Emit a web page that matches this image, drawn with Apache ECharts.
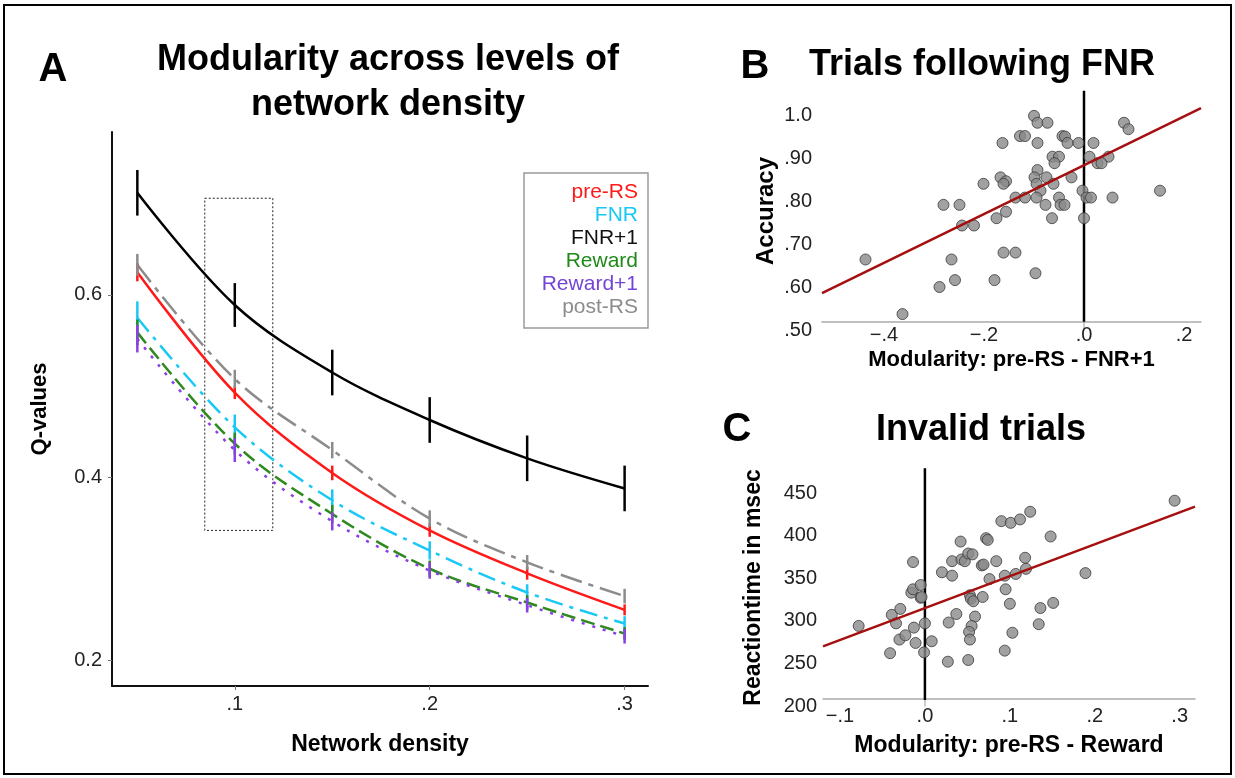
<!DOCTYPE html>
<html>
<head>
<meta charset="utf-8">
<script src="https://cdn.jsdelivr.net/npm/echarts@6/dist/echarts.min.js"></script>
<style>
  html, body { margin: 0; padding: 0; background: #fff; }
  #main { width: 1235px; height: 778px; }
</style>
</head>
<body>
<div id="main"></div>
<script>
// panel A: modularity per density level
let density = [0.05, 0.10, 0.15, 0.20, 0.25, 0.30];
let preRS = [0.625, 0.493, 0.405, 0.342, 0.295, 0.255];
let preRSErr = [0.010, 0.007, 0.008, 0.007, 0.007, 0.006];
let fnr = [0.575, 0.455, 0.375, 0.320, 0.274, 0.240];
let fnrErr = [0.018, 0.014, 0.012, 0.010, 0.009, 0.008];
let fnrPlus1 = [0.712, 0.589, 0.515, 0.463, 0.421, 0.388];
let fnrPlus1Err = [0.025, 0.024, 0.025, 0.025, 0.025, 0.025];
let reward = [0.559, 0.437, 0.360, 0.300, 0.263, 0.229];
let rewardErr = [0.014, 0.012, 0.010, 0.009, 0.008, 0.007];
let reward1 = [0.552, 0.430, 0.352, 0.298, 0.260, 0.226];
let reward1Err = [0.015, 0.013, 0.010, 0.009, 0.008, 0.008];
let postRS = [0.633, 0.508, 0.430, 0.355, 0.307, 0.270];
let postRSErr = [0.012, 0.010, 0.009, 0.009, 0.008, 0.008];
let focusBox = [[0.0846, 0.706], [0.1195, 0.342]];

// panel B: accuracy after FNR vs modularity difference
let accuracyPoints = [
  [-0.100, 0.998], [-0.093, 0.982], [-0.073, 0.982], [0.080, 0.982], [0.089, 0.967],
  [-0.128, 0.951], [-0.118, 0.951], [-0.043, 0.951], [-0.038, 0.950], [-0.163, 0.935],
  [-0.093, 0.935], [-0.033, 0.935], [-0.011, 0.935], [0.019, 0.935], [-0.063, 0.903],
  [-0.050, 0.903], [0.011, 0.903], [0.049, 0.903], [-0.059, 0.888], [0.027, 0.888],
  [0.035, 0.888], [-0.093, 0.872], [-0.167, 0.855], [-0.156, 0.846], [-0.161, 0.840],
  [-0.201, 0.840], [-0.099, 0.855], [-0.075, 0.855], [-0.025, 0.855], [-0.095, 0.840],
  [-0.061, 0.840], [-0.087, 0.824], [-0.003, 0.824], [0.152, 0.824], [-0.137, 0.808],
  [-0.118, 0.808], [-0.095, 0.808], [-0.050, 0.808], [0.005, 0.808], [0.014, 0.808],
  [0.057, 0.808], [-0.281, 0.791], [-0.249, 0.791], [-0.156, 0.775], [-0.077, 0.791],
  [-0.047, 0.791], [-0.039, 0.791], [-0.175, 0.760], [-0.064, 0.760], [0.000, 0.760],
  [-0.244, 0.743], [-0.220, 0.743], [-0.161, 0.680], [-0.137, 0.680], [-0.437, 0.664],
  [-0.265, 0.664], [-0.097, 0.632], [-0.289, 0.600], [-0.258, 0.616], [-0.179, 0.616],
  [-0.363, 0.537]
];
let accuracyFit = [[-0.524, 0.586], [0.234, 1.016]];
let accuracyZero = [[0, 0.519], [0, 1.06]];

// panel C: reaction time on invalid trials vs modularity difference
let rtPoints = [
  [-0.078, 294], [-0.041, 262], [-0.039, 307], [-0.034, 297], [-0.030, 278],
  [-0.029, 314], [-0.023, 283], [-0.014, 369], [-0.016, 333], [-0.014, 337],
  [-0.005, 342], [-0.005, 327], [-0.004, 328], [-0.013, 292], [-0.011, 274],
  [0.000, 297], [-0.001, 263], [0.008, 276], [0.020, 357], [0.032, 370],
  [0.032, 353], [0.028, 298], [0.027, 252], [0.042, 393], [0.043, 372],
  [0.047, 370], [0.051, 379], [0.056, 378], [0.037, 308], [0.053, 330],
  [0.054, 326], [0.057, 323], [0.059, 305], [0.055, 294], [0.052, 287],
  [0.053, 278], [0.051, 254], [0.068, 328], [0.067, 365], [0.069, 366],
  [0.072, 397], [0.074, 395], [0.076, 349], [0.084, 370], [0.090, 417],
  [0.101, 415], [0.112, 419], [0.124, 428], [0.094, 353], [0.107, 355],
  [0.095, 337], [0.118, 374], [0.119, 361], [0.100, 320], [0.103, 286],
  [0.094, 265], [0.148, 399], [0.136, 315], [0.151, 321], [0.134, 296],
  [0.189, 356], [0.294, 441]
];
let rtFit = [[-0.12, 270], [0.318, 434]];
let rtZero = [[0, 207], [0, 479]];

let names = ['pre-RS', 'FNR', 'FNR+1', 'Reward', 'Reward+1', 'post-RS'];
let values = [preRS, fnr, fnrPlus1, reward, reward1, postRS];
let errors = [preRSErr, fnrErr, fnrPlus1Err, rewardErr, reward1Err, postRSErr];
let colors = ['#ff1a1a', '#19c8f5', '#000000', '#2e8a1e', '#8b3fe6', '#8c8c8c'];
let legendColors = ['#ff1a1a', '#19c8f5', '#111111', '#1f8a1a', '#7244d8', '#8c8c8c'];
let dashes = ['solid', [18, 7, 4, 7], 'solid', [14, 6], [3, 8], [22, 7, 5, 7]];

let fam = "'Liberation Sans', Arial, sans-serif";

function dotless(v) {
  let s = Math.abs(v).toFixed(1).replace(/^0/, '');
  return (v < -1e-9 ? '\u2212' : '') + s;
}

let myChart = echarts.init(document.getElementById('main'));

let series = [];
names.forEach((name, i) => {
  let line = {
    name: name,
    type: 'line',
    xAxisIndex: 0, yAxisIndex: 0,
    data: density.map((d, k) => [d, values[i][k]]),
    smooth: 0.35,
    symbol: 'none',
    z: 3,
    lineStyle: { color: colors[i], width: 2.5, type: dashes[i] },
    itemStyle: { color: colors[i] }
  };
  if (name === 'FNR+1') {
    line.markArea = {
      silent: true,
      itemStyle: { color: 'transparent', borderColor: '#222', borderWidth: 1, borderType: [2, 2] },
      data: [[{ coord: focusBox[0] }, { coord: focusBox[1] }]]
    };
  }
  series.push(line);
  series.push({
    name: name,
    type: 'custom',
    xAxisIndex: 0, yAxisIndex: 0,
    z: 4,
    data: density.map((d, k) => [d, values[i][k] - errors[i][k], values[i][k] + errors[i][k]]),
    renderItem: (params, api) => {
      let p1 = api.coord([api.value(0), api.value(1)]);
      let p2 = api.coord([api.value(0), api.value(2)]);
      return {
        type: 'line',
        shape: { x1: p1[0], y1: p1[1], x2: p2[0], y2: p2[1] },
        style: { stroke: colors[i], lineWidth: 2.5 }
      };
    }
  });
});

let dotStyle = { color: '#8a8a8a', borderColor: '#3a3a3a', borderWidth: 1 };

series.push(
  { type: 'scatter', xAxisIndex: 1, yAxisIndex: 1, data: accuracyPoints, symbolSize: 11, itemStyle: dotStyle, z: 5 },
  { type: 'line', xAxisIndex: 1, yAxisIndex: 1, data: accuracyFit, symbol: 'none', lineStyle: { color: '#a50f0f', width: 2.5 }, z: 6 },
  { type: 'line', xAxisIndex: 1, yAxisIndex: 1, data: accuracyZero, symbol: 'none', lineStyle: { color: '#000', width: 2.5 }, z: 4 },
  { type: 'scatter', xAxisIndex: 2, yAxisIndex: 2, data: rtPoints, symbolSize: 11, itemStyle: dotStyle, z: 5 },
  { type: 'line', xAxisIndex: 2, yAxisIndex: 2, data: rtFit, symbol: 'none', lineStyle: { color: '#a50f0f', width: 2.5 }, z: 6 },
  { type: 'line', xAxisIndex: 2, yAxisIndex: 2, data: rtZero, symbol: 'none', lineStyle: { color: '#000', width: 2.5 }, z: 4 }
);

let labelStyle = { fontFamily: fam, fontSize: 20, color: '#222' };
let nameStyle = { fontFamily: fam, fontSize: 23, fontWeight: 'bold', color: '#000' };

let option = {
  backgroundColor: '#fff',
  animation: false,
  textStyle: { fontFamily: fam },
  grid: [
    { left: 112, top: 132, width: 536, height: 554 },
    { left: 822, top: 92, width: 379, height: 238 },
    { left: 823, top: 469, width: 372, height: 237 }
  ],
  legend: {
    left: 524, top: 173,
    orient: 'vertical',
    selectedMode: false,
    icon: 'none',
    itemWidth: 0, itemHeight: 0,
    itemGap: 2,
    padding: [9, 10, 10, 6],
    borderColor: '#9a9a9a',
    borderWidth: 1.5,
    data: names.map((n, i) => ({ name: n, textStyle: { color: legendColors[i] } })),
    formatter: n => '{t|' + n + '}',
    textStyle: {
      fontFamily: fam, fontSize: 21,
      rich: { t: { width: 103, align: 'right', fontSize: 21, lineHeight: 20, fontFamily: fam } }
    }
  },
  xAxis: [
    {
      gridIndex: 0, type: 'value', min: 0.037, max: 0.312,
      splitLine: { show: false },
      axisLine: { lineStyle: { color: '#111', width: 2 } },
      axisTick: { customValues: [0.1, 0.2, 0.3], length: 4, lineStyle: { color: '#777' } },
      axisLabel: { customValues: [0.1, 0.2, 0.3], formatter: dotless, margin: 8, ...labelStyle },
      name: 'Network density', nameLocation: 'middle', nameGap: 47, nameTextStyle: nameStyle
    },
    {
      gridIndex: 1, type: 'value', min: -0.524, max: 0.234, offset: -8,
      splitLine: { show: false },
      axisLine: { lineStyle: { color: '#aaa', width: 1.5 } },
      axisTick: { show: false },
      axisLabel: { customValues: [-0.4, -0.2, 0, 0.2], formatter: dotless, margin: 3, ...labelStyle },
      name: 'Modularity: pre-RS - FNR+1', nameLocation: 'middle', nameGap: 27, nameTextStyle: { ...nameStyle, fontSize: 22 }
    },
    {
      gridIndex: 2, type: 'value', min: -0.12, max: 0.318, offset: -7,
      splitLine: { show: false },
      axisLine: { lineStyle: { color: '#aaa', width: 1.5 } },
      axisTick: { show: false },
      axisLabel: { customValues: [-0.1, 0, 0.1, 0.2, 0.3], formatter: dotless, margin: 7, ...labelStyle },
      name: 'Modularity: pre-RS - Reward', nameLocation: 'middle', nameGap: 35, nameTextStyle: nameStyle
    }
  ],
  yAxis: [
    {
      gridIndex: 0, type: 'value', min: 0.1715, max: 0.7786,
      splitLine: { show: false },
      axisLine: { lineStyle: { color: '#111', width: 2 } },
      axisTick: { customValues: [0.2, 0.4, 0.6], length: 4, lineStyle: { color: '#777' } },
      axisLabel: { customValues: [0.2, 0.4, 0.6], formatter: v => v.toFixed(1), margin: 10, ...labelStyle },
      name: 'Q-values', nameLocation: 'middle', nameGap: 61, nameTextStyle: { ...nameStyle, fontSize: 22 }
    },
    {
      gridIndex: 1, type: 'value', min: 0.5, max: 1.0535,
      splitLine: { show: false },
      axisLine: { lineStyle: { color: '#bbb', width: 1.5 } },
      axisTick: { show: false },
      axisLabel: {
        customValues: [0.5, 0.6, 0.7, 0.8, 0.9, 1.0],
        formatter: v => v >= 0.999 ? '1.0' : v.toFixed(2).replace(/^0/, ''),
        margin: 10, ...labelStyle
      },
      name: 'Accuracy', nameLocation: 'middle', nameGap: 44, nameTextStyle: { ...nameStyle, fontSize: 24 }
    },
    {
      gridIndex: 2, type: 'value', min: 200, max: 478.2,
      splitLine: { show: false },
      axisLine: { lineStyle: { color: '#bbb', width: 1.5 } },
      axisTick: { show: false },
      axisLabel: { customValues: [200, 250, 300, 350, 400, 450], margin: 6, ...labelStyle },
      name: 'Reactiontime in msec', nameLocation: 'middle', nameGap: 58, nameTextStyle: nameStyle
    }
  ],
  graphic: [
    { type: 'rect', shape: { x: 4, y: 5, width: 1227, height: 769 }, style: { fill: 'none', stroke: '#000', lineWidth: 2 }, silent: true },
    { type: 'text', x: 53, y: 70, style: { text: 'A', font: 'bold 40px ' + fam, fill: '#000', textAlign: 'center', textVerticalAlign: 'middle' } },
    { type: 'text', x: 388, y: 83, style: { text: 'Modularity across levels of\nnetwork density', font: 'bold 36px ' + fam, lineHeight: 45, fill: '#000', textAlign: 'center', textVerticalAlign: 'middle' } },
    { type: 'text', x: 755, y: 67, style: { text: 'B', font: 'bold 40px ' + fam, fill: '#000', textAlign: 'center', textVerticalAlign: 'middle' } },
    { type: 'text', x: 982, y: 65, style: { text: 'Trials following FNR', font: 'bold 36px ' + fam, fill: '#000', textAlign: 'center', textVerticalAlign: 'middle' } },
    { type: 'text', x: 737, y: 430, style: { text: 'C', font: 'bold 40px ' + fam, fill: '#000', textAlign: 'center', textVerticalAlign: 'middle' } },
    { type: 'text', x: 981, y: 430, style: { text: 'Invalid trials', font: 'bold 36px ' + fam, fill: '#000', textAlign: 'center', textVerticalAlign: 'middle' } }
  ],
  series: series
};

myChart.setOption(option);
</script>
</body>
</html>
